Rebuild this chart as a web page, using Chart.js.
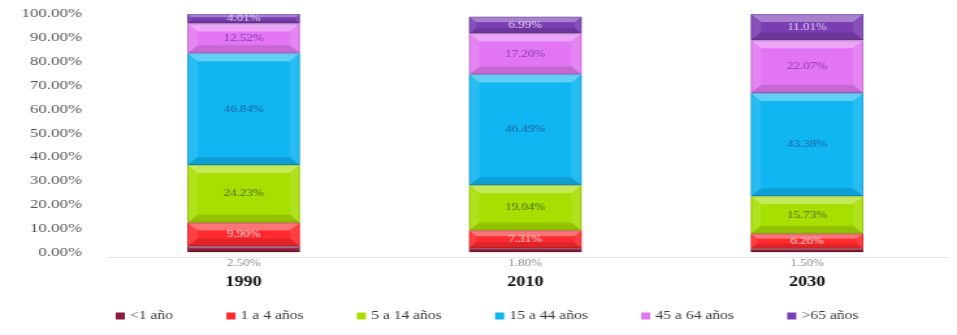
<!DOCTYPE html>
<html>
<head>
<meta charset="utf-8">
<script src="https://cdn.jsdelivr.net/npm/chart.js@4.4.1/dist/chart.umd.min.js"></script>
<style>
  html, body { margin: 0; padding: 0; background: #ffffff; overflow: hidden; }
  #wrap { width: 957px; height: 335px; position: relative; overflow: hidden; }
  /* the figure is laid out narrow and widened horizontally */
  #c { position: absolute; left: 0; top: 0; transform: scaleX(1.3003); transform-origin: 0 0; }
</style>
</head>
<body>
<div id="wrap"><canvas id="c" width="736" height="335"></canvas></div>
<script>
// Population structure by age group (percent of total)
const years = ['1990', '2010', '2030'];
const groupNames = ['<1 año', '1 a 4 años', '5 a 14 años', '15 a 44 años', '45 a 64 años', '>65 años'];
const under1    = [2.50, 1.80, 1.50];
const age1to4   = [9.90, 7.31, 6.26];
const age5to14  = [24.23, 19.04, 15.73];
const age15to44 = [46.84, 46.49, 43.38];
const age45to64 = [12.52, 17.20, 22.07];
const over65    = [4.01, 6.99, 11.01];
const yTicks = [0, 10, 20, 30, 40, 50, 60, 70, 80, 90, 100];

const seriesValues = [under1, age1to4, age5to14, age15to44, age45to64, over65];
const fills = ['#8c1c3c', '#ff2a2e', '#a6df00', '#0fb6f2', '#e276f2', '#7a3db2'];
const inks  = ['#8a8a8a', '#ffd6d6', '#4b6b00', '#1c64a0', '#8a3aa8', '#ddd0f4'];

const SERIF = '"Liberation Serif", "Times New Roman", serif';
const fmt = v => v.toFixed(2) + '%';

// Bevelled faces on each bar segment
const bevelPlugin = {
  id: 'bevel',
  afterDatasetsDraw(chart) {
    const ctx = chart.ctx;
    chart.data.datasets.forEach((ds, di) => {
      chart.getDatasetMeta(di).data.forEach(bar => {
        const p = bar.getProps(['x', 'y', 'base', 'width'], true);
        const l = p.x - p.width / 2, r = p.x + p.width / 2;
        const t = Math.min(p.y, p.base), b = Math.max(p.y, p.base);
        const h = b - t;
        const e = Math.min(8, h / 3);
        ctx.save();
        ctx.beginPath();
        ctx.moveTo(l, t); ctx.lineTo(r, t); ctx.lineTo(r - e, t + e); ctx.lineTo(l + e, t + e); ctx.closePath();
        ctx.fillStyle = 'rgba(255,255,255,0.35)'; ctx.fill();
        ctx.beginPath();
        ctx.moveTo(l, b); ctx.lineTo(r, b); ctx.lineTo(r - e, b - e); ctx.lineTo(l + e, b - e); ctx.closePath();
        ctx.fillStyle = 'rgba(0,0,0,0.12)'; ctx.fill();
        ctx.beginPath();
        ctx.moveTo(l, t); ctx.lineTo(l + e, t + e); ctx.lineTo(l + e, b - e); ctx.lineTo(l, b); ctx.closePath();
        ctx.fillStyle = 'rgba(255,255,255,0.10)'; ctx.fill();
        ctx.beginPath();
        ctx.moveTo(r, t); ctx.lineTo(r - e, t + e); ctx.lineTo(r - e, b - e); ctx.lineTo(r, b); ctx.closePath();
        ctx.fillStyle = 'rgba(255,255,255,0.10)'; ctx.fill();
        ctx.strokeStyle = 'rgba(0,0,0,0.15)'; ctx.lineWidth = 1;
        ctx.strokeRect(l + 0.5, t + 0.5, p.width - 1, h - 1);
        ctx.restore();
      });
    });
  }
};

// Value labels: centred in each segment; the thin bottom group is labelled under the bar
const valueLabelPlugin = {
  id: 'valueLabels',
  afterDatasetsDraw(chart) {
    const ctx = chart.ctx;
    ctx.save();
    ctx.font = '10px ' + SERIF;
    ctx.textAlign = 'center';
    ctx.textBaseline = 'middle';
    chart.data.datasets.forEach((ds, di) => {
      chart.getDatasetMeta(di).data.forEach((bar, i) => {
        const p = bar.getProps(['x', 'y', 'base'], true);
        ctx.fillStyle = inks[di];
        const yPos = di === 0 ? p.base + 11 : (p.y + p.base) / 2;
        ctx.fillText(fmt(ds.data[i]), p.x, yPos);
      });
    });
    ctx.restore();
  }
};

// Faint baseline just under the bars
const baselinePlugin = {
  id: 'baseline',
  beforeDatasetsDraw(chart) {
    const ctx = chart.ctx;
    const y0 = Math.round(chart.scales.y.getPixelForValue(0)) + 5;
    ctx.save();
    ctx.strokeStyle = '#e6e6e6';
    ctx.lineWidth = 1;
    ctx.beginPath();
    ctx.moveTo(chart.chartArea.left + 3, y0 + 0.5);
    ctx.lineTo(chart.chartArea.right, y0 + 0.5);
    ctx.stroke();
    ctx.restore();
  }
};

// Legend row along the bottom: small square swatch, then the group name
const legendRowPlugin = {
  id: 'legendRow',
  afterDraw(chart) {
    const ctx = chart.ctx;
    ctx.save();
    ctx.font = '12px ' + SERIF;
    ctx.textBaseline = 'middle';
    ctx.textAlign = 'left';
    const box = 7, gap = 4, spacing = 41, yMid = 316;
    let x = 89;
    groupNames.forEach((name, k) => {
      ctx.fillStyle = fills[k];
      ctx.fillRect(x, yMid - box / 2, box, box);
      ctx.fillStyle = '#3a3a3a';
      ctx.fillText(name, x + box + gap, yMid);
      x += box + gap + ctx.measureText(name).width + spacing;
    });
    ctx.restore();
  }
};

new Chart(document.getElementById('c'), {
  type: 'bar',
  data: {
    labels: years,
    datasets: seriesValues.map((vals, k) => ({
      label: groupNames[k],
      data: vals,
      backgroundColor: fills[k],
      borderWidth: 0,
      barPercentage: 0.4,
      categoryPercentage: 1.0
    }))
  },
  options: {
    responsive: false,
    animation: false,
    devicePixelRatio: 1,
    layout: { padding: { left: 0, right: 7, top: 0, bottom: 22 } },
    scales: {
      x: {
        stacked: true,
        grid: { display: false, drawTicks: false },
        border: { display: false },
        ticks: {
          padding: 22,
          color: '#111',
          font: { family: SERIF, size: 14, weight: 'bold' }
        }
      },
      y: {
        stacked: true,
        min: 0,
        max: 100,
        afterBuildTicks(axis) { axis.ticks = yTicks.map(v => ({ value: v })); },
        afterFit(axis) {
          axis.width = 79;
          axis.paddingTop = 14;
          axis.paddingBottom = 0;
        },
        grid: { display: false, drawTicks: false },
        border: { display: false },
        ticks: {
          autoSkip: false,
          padding: 16,
          color: '#555',
          font: { family: SERIF, size: 13 },
          callback: v => fmt(v)
        }
      }
    },
    plugins: {
      legend: { display: false },
      tooltip: { enabled: false }
    }
  },
  plugins: [baselinePlugin, bevelPlugin, valueLabelPlugin, legendRowPlugin]
});
</script>
</body>
</html>
